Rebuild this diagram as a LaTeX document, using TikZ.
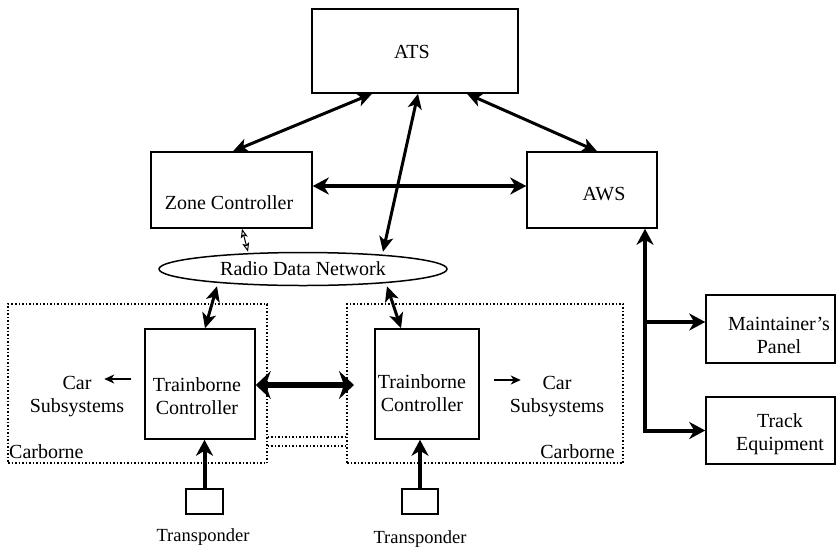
\documentclass[tikz,border=0pt]{standalone}
\usepackage{fontspec}
\setmainfont{Liberation Serif}
\usetikzlibrary{arrows.meta,shapes.geometric}
\begin{document}
\begin{tikzpicture}[x=1pt,y=-1pt,
  font=\fontsize{20}{23}\selectfont,
  box/.style={draw, line width=1.5pt, inner sep=0pt},
  carbox/.style={draw, dotted, line width=1.5pt, inner sep=0pt},
  txt/.style={anchor=base, align=center, inner sep=0pt},
  link/.style={line width=3pt, >={Stealth[length=15pt,width=14pt,inset=4pt]}, <->},
  heavy/.style={line width=4pt, >={Stealth[length=16pt,width=17pt,inset=5pt]}},
  busarrow/.style={line width=6pt, >={Stealth[length=15pt,width=28pt,inset=5pt]}, <->},
  small/.style={line width=1.5pt, >={Stealth[length=10pt,width=9pt,inset=3pt]}, ->},
  tiny/.style={line width=1pt, >={Stealth[open,length=9pt,width=7pt,inset=2pt]}, <->}
]
\useasboundingbox (0,0) rectangle (837,547);

% boxes
\node[box, minimum width=206pt, minimum height=84pt] (ats) at (415,51) {};
\node[box, minimum width=161pt, minimum height=76pt] (zc) at (231.5,190) {};
\node[box, minimum width=130pt, minimum height=76pt] (aws) at (592,190) {};
\node[draw, ellipse, line width=1.5pt, inner sep=0pt, minimum width=288pt, minimum height=33pt] (rdn) at (303,269) {Radio Data Network};
\node[carbox, minimum width=259pt, minimum height=159pt] (cbL) at (137.5,383.5) {};
\node[carbox, minimum width=276pt, minimum height=159pt] (cbR) at (485,383.5) {};
\node[box, minimum width=110pt, minimum height=110pt] (tbL) at (200,384) {};
\node[box, minimum width=104pt, minimum height=110pt] (tbR) at (427,384) {};
\node[box, minimum width=129pt, minimum height=68pt] (mp) at (770.5,329) {};
\node[box, minimum width=129pt, minimum height=67pt] (te) at (770.5,430.5) {};
\node[box, minimum width=37pt, minimum height=25pt] (tpL) at (204.5,501.5) {};
\node[box, minimum width=36pt, minimum height=25pt] (tpR) at (420,501.5) {};

% texts (multi-line texts are anchored at the baseline of their last line)
\node[txt] (atsT) at (412,58) {ATS};
\node[txt] (zcT) at (229,209) {Zone Controller};
\node[txt] (awsT) at (604,200) {AWS};
\node[txt] (tbLT) at (197,414) {Trainborne\\Controller};
\node[txt] (tbRT) at (422,411) {Trainborne\\Controller};
\node[txt] (carL) at (77,412) {Car\\Subsystems};
\node[txt] (carR) at (557,412) {Car\\Subsystems};
\node[txt, anchor=base west] (cbLT) at (9,458) {Carborne};
\node[txt, anchor=base east] (cbRT) at (615,458) {Carborne};
\node[txt] (mpT) at (779,353) {Maintainer’s\\Panel};
\node[txt] (teT) at (780,450) {Track\\Equipment};
\node[txt, font=\fontsize{18.5}{21}\selectfont] (tpLT) at (203,541) {Transponder};
\node[txt, font=\fontsize{18.5}{21}\selectfont] (tpRT) at (420,543) {Transponder};

% dotted links between carborne boxes
\draw[dotted, line width=1.5pt] (cbL.east |- 0,437) -- (cbR.west |- 0,437);
\draw[dotted, line width=1.5pt] (cbL.east |- 0,446) -- (cbR.west |- 0,446);

% connectors
\draw[link] ([xshift=-43pt]ats.south) -- ([xshift=1.5pt]zc.north);
\draw[link] ([xshift=3pt]ats.south) -- ([xshift=80pt]rdn.north);
\draw[link] ([xshift=52pt]ats.south) -- ([xshift=5pt]aws.north);
\draw[heavy, <->] ([yshift=4pt]zc.east) -- ([yshift=4pt]aws.west);
\draw[tiny] ([xshift=10.5pt]zc.south) -- ([xshift=-55pt]rdn.north);
\draw[link] ([xshift=-86pt]rdn.south) -- ([xshift=5pt]tbL.north);
\draw[link] ([xshift=84pt]rdn.south) -- ([xshift=-26pt]tbR.north);
\coordinate (busend) at (354,385);
\draw[busarrow] ([yshift=-1pt]tbL.east) -- (busend);
\draw[small] ([xshift=-13pt,yshift=5pt]tbL.west) -- ++(-27,0);
\draw[small] ([xshift=14pt,yshift=4pt]tbR.east) -- ++(27,0);
\draw[heavy, <->] ([xshift=53pt]aws.south) |- (te.west);
\draw[heavy, ->] ([xshift=53pt]aws.south |- 0,322) -- ([yshift=7pt]mp.west);
\draw[heavy, ->] (tpL.north) -- (tpL.north |- tbL.south);
\draw[heavy, ->] (tpR.north) -- (tpR.north |- tbR.south);
\end{tikzpicture}
\end{document}
